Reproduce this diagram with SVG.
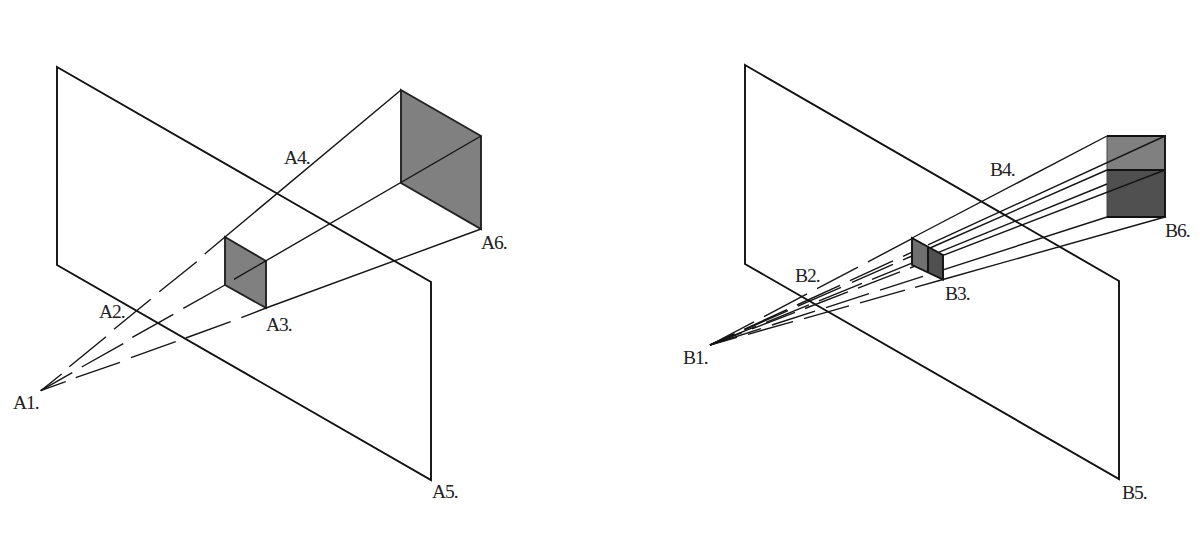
<svg xmlns="http://www.w3.org/2000/svg" width="1200" height="538" viewBox="0 0 1200 538">
<style>
.plane{fill:none;stroke:#111;stroke-width:1.9;stroke-linejoin:miter}
.face{stroke:#222;stroke-width:1.9;stroke-linejoin:miter}
.rays{fill:none;stroke:#151515;stroke-width:1.4}
.edge{fill:none;stroke:#111;stroke-width:1.9}
text{font-family:"Liberation Serif","Times New Roman",serif;font-size:19.5px;fill:#222;letter-spacing:-1px}
</style>
<rect width="1200" height="538" fill="#fff"/>
<g id="plane-a"><path class="plane" d="M57 67L431 282V480L57 265Z"/></g>
<g id="plane-b"><path class="plane" d="M745 65L1119 281V479L745 264Z"/></g>
<g id="screen-a"><path class="face" fill="#808080" d="M401 90L481 136V229L401 183Z"/></g>
<g id="screen-b">
<rect x="1107" y="136" width="58" height="34" fill="#808080"/>
<rect x="1107" y="170" width="58" height="47" fill="#505050"/>
<path fill="none" stroke="#444" stroke-width="1" d="M1107 136V217"/>
<path class="edge" d="M1107 136H1165V217H1107M1107 170H1165"/>
</g>
<g id="box-a"><path class="face" fill="#808080" d="M225 237L266 261V308L225 285Z"/></g>
<g id="box-b">
<path fill="#707070" d="M912 238L928 247V272L912 265Z"/>
<path fill="#505050" d="M928 247L943 255V279.5L928 272Z"/>
<path class="edge" d="M912 238L943 255V279.5L912 265ZM928 247V272"/>
</g>
<g id="connectors" class="rays">
<path d="M225 237L401 90M234 279.3L481 136M266 308L481 229"/>
<path d="M40.7 390.7L61.7 374M69.3 366.7L106 336.7M114 329.3L150.7 299.3M159.3 291.7L196.7 261.7M204.7 254L225 237"/>
<path d="M40.7 390.7L72.3 372.7M81.7 367L123.3 343.7M132.3 337.3L173.3 314.3M183.3 308.3L225 285"/>
<path d="M40.7 390.7L65.7 381.7M75.7 377.7L120 362.3M131 357.7L175.7 341.7M185.7 338L230.7 321.7M241.3 317.7L266 308"/>
<path d="M912 238L1107 136M928 244.9L1165 136M930 248L1107 170M938.5 252.3L1107 184M943 255.4L1165 170M943 269.9L1107 217M943 279.5L1165 217"/>
<path d="M710 345L754 321.8M764 316.6L807 293.9M817 288.7L858 267.1M868 261.8L912 238.7"/>
<path d="M710 345L734 334M744 329.4L787 309.6M797 305L840 285.3M850 280.7L893 260.9M903 256.4L912 252.2"/>
<path d="M710 345L735 334M745 329.6L788 310.6M798 306.2L841 287.3M852 282.4L893 264.3M903 259.9L912 256"/>
<path d="M710 345L756 326.3M766 322.3L809 304.9M819 300.8L862 283.4M872 279.3L912 263.1"/>
<path d="M710 345L742 332.7M752 328.8L795 312.3M805 308.5L848 291.9M858 288.1L900 271.9M910 268L915 266.2"/>
<path d="M710 345L761 328.6M772 325L815 311.1M826 307.6L869 293.7M880 290.2L923 276.3"/>
<path d="M710 345L737 337.4M748 334.3L793 321.6M804 318.6L849 305.9M860 302.8L905 290.1M915 287.3L943 279.5"/>
</g>
<g id="labels">
<text x="13" y="409">A1.</text>
<text x="99" y="318">A2.</text>
<text x="266" y="331">A3.</text>
<text x="284" y="164">A4.</text>
<text x="432" y="498">A5.</text>
<text x="481" y="249">A6.</text>
<text x="683" y="364">B1.</text>
<text x="795" y="282">B2.</text>
<text x="945" y="300">B3.</text>
<text x="990" y="176">B4.</text>
<text x="1122" y="499">B5.</text>
<text x="1165" y="237">B6.</text>
</g>
</svg>
